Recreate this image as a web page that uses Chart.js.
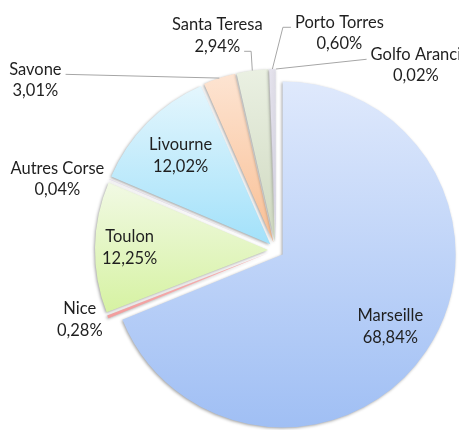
<!DOCTYPE html>
<html>
<head>
<meta charset="utf-8">
<script src="https://cdn.jsdelivr.net/npm/chart.js@4.4.0/dist/chart.umd.min.js"></script>
<style>
  html, body { margin: 0; padding: 0; background: #fff; }
  #wrap { width: 459px; height: 430px; }
</style>
</head>
<body>
<div id="wrap"><canvas id="chart"></canvas></div>
<script>
// share of passengers per port, clockwise from 12 o'clock
const ports = ['Marseille', 'Nice', 'Toulon', 'Autres Corse', 'Livourne', 'Savone', 'Santa Teresa', 'Porto Torres', 'Golfo Aranci'];
const shares = [68.84, 0.28, 12.25, 0.04, 12.02, 3.01, 2.94, 0.60, 0.02];

// light vertical gradient per slice (top -> bottom)
const topColors = ['#dfe9fc', '#f8b6b6', '#f1f9e4', '#e4dcf2', '#e4f6fd', '#fde4d2', '#eaf0e2', '#e4e2ec', '#e0e4ee'];
const bottomColors = ['#a0bff4', '#f29c9c', '#d6f2a2', '#c9b8e6', '#a2e1fa', '#f9bf94', '#cfd9c0', '#d2d0e0', '#c8d0e0'];

// where each label goes: inside at a fraction of the radius, or outside relative to the slice edge
const labelPlacement = [
  { inside: true, r: 0.75 },
  { dx: -28, dy: 3 },
  { inside: true, r: 0.8 },
  { dx: -52, dy: 0 },
  { inside: true, r: 0.73 },
  { dx: -184, dy: 2, leader: { line: 0, elbow: 0 } },
  { dx: -35, dy: -35, leader: { line: 1, elbow: 7 } },
  { dx: 67, dy: -36, leader: { line: 0, elbow: 8 } },
  { dx: 140, dy: -4, leader: { line: 0, elbow: 0 } }
];

const EXPLODE = 8;
const LABEL_FONT = '16.5px Lato';
const LINE_H = 21.5;

const pct = v => v.toFixed(2).replace('.', ',') + '%';

// push every slice out along its bisector, like an exploded Excel pie
const explodePlugin = {
  id: 'explode',
  afterDatasetsUpdate(chart) {
    chart.getDatasetMeta(0).data.forEach(arc => {
      const mid = (arc.startAngle + arc.endAngle) / 2;
      arc.x += Math.cos(mid) * EXPLODE;
      arc.y += Math.sin(mid) * EXPLODE;
    });
  }
};

const fillPlugin = {
  id: 'sliceFill',
  beforeDatasetsDraw(chart) {
    const ctx = chart.ctx;
    chart.getDatasetMeta(0).data.forEach((arc, i) => {
      const r = arc.outerRadius;
      const ys = [arc.y, arc.y + Math.sin(arc.startAngle) * r, arc.y + Math.sin(arc.endAngle) * r];
      [-Math.PI / 2, Math.PI / 2, 3 * Math.PI / 2].forEach(a => {
        if (a > arc.startAngle && a < arc.endAngle) ys.push(arc.y + Math.sin(a) * r);
      });
      const g = ctx.createLinearGradient(0, Math.min(...ys), 0, Math.max(...ys));
      g.addColorStop(0, topColors[i]);
      g.addColorStop(1, bottomColors[i]);
      arc.options.backgroundColor = g;
    });
    ctx.save();
    ctx.shadowColor = 'rgba(0,0,0,0.35)';
    ctx.shadowBlur = 3;
    ctx.shadowOffsetX = -1;
    ctx.shadowOffsetY = 1;
  },
  afterDatasetsDraw(chart) {
    chart.ctx.restore();
  }
};

const labelPlugin = {
  id: 'sliceLabels',
  afterDraw(chart) {
    const ctx = chart.ctx;
    ctx.save();
    ctx.font = LABEL_FONT;
    ctx.textAlign = 'center';
    ctx.textBaseline = 'middle';
    chart.getDatasetMeta(0).data.forEach((arc, i) => {
      const p = labelPlacement[i];
      const mid = (arc.startAngle + arc.endAngle) / 2;
      const cos = Math.cos(mid), sin = Math.sin(mid);
      const ox = arc.x + cos * arc.outerRadius;
      const oy = arc.y + sin * arc.outerRadius;
      let cx, cy;
      if (p.inside) {
        cx = arc.x + cos * arc.outerRadius * p.r;
        cy = arc.y + sin * arc.outerRadius * p.r;
      } else {
        cx = ox + p.dx;
        cy = oy + p.dy;
      }
      const lines = [ports[i], pct(shares[i])];
      const y0 = cy - LINE_H / 2;
      if (p.leader) {
        const w = ctx.measureText(lines[p.leader.line]).width;
        const side = cx < ox ? 1 : -1;
        const ax = cx + side * (w / 2 + 4);
        const ay = y0 + p.leader.line * LINE_H + 5;
        ctx.strokeStyle = '#a6a6a6';
        ctx.lineWidth = 1;
        ctx.beginPath();
        ctx.moveTo(ax, ay);
        ctx.lineTo(ax + side * p.leader.elbow, ay);
        ctx.lineTo(ox, oy);
        ctx.stroke();
      }
      ctx.fillStyle = '#1f1f1f';
      lines.forEach((t, k) => ctx.fillText(t, cx, y0 + k * LINE_H));
    });
    ctx.restore();
  }
};

new Chart(document.getElementById('chart'), {
  type: 'pie',
  data: {
    labels: ports,
    datasets: [{
      data: shares,
      backgroundColor: bottomColors,
      borderWidth: 0
    }]
  },
  options: {
    responsive: true,
    maintainAspectRatio: false,
    animation: false,
    radius: 173,
    layout: { padding: { left: 93, top: 70, right: 0, bottom: 0 } },
    plugins: {
      legend: { display: false },
      tooltip: { enabled: false }
    }
  },
  plugins: [explodePlugin, fillPlugin, labelPlugin]
});
</script>
</body>
</html>
